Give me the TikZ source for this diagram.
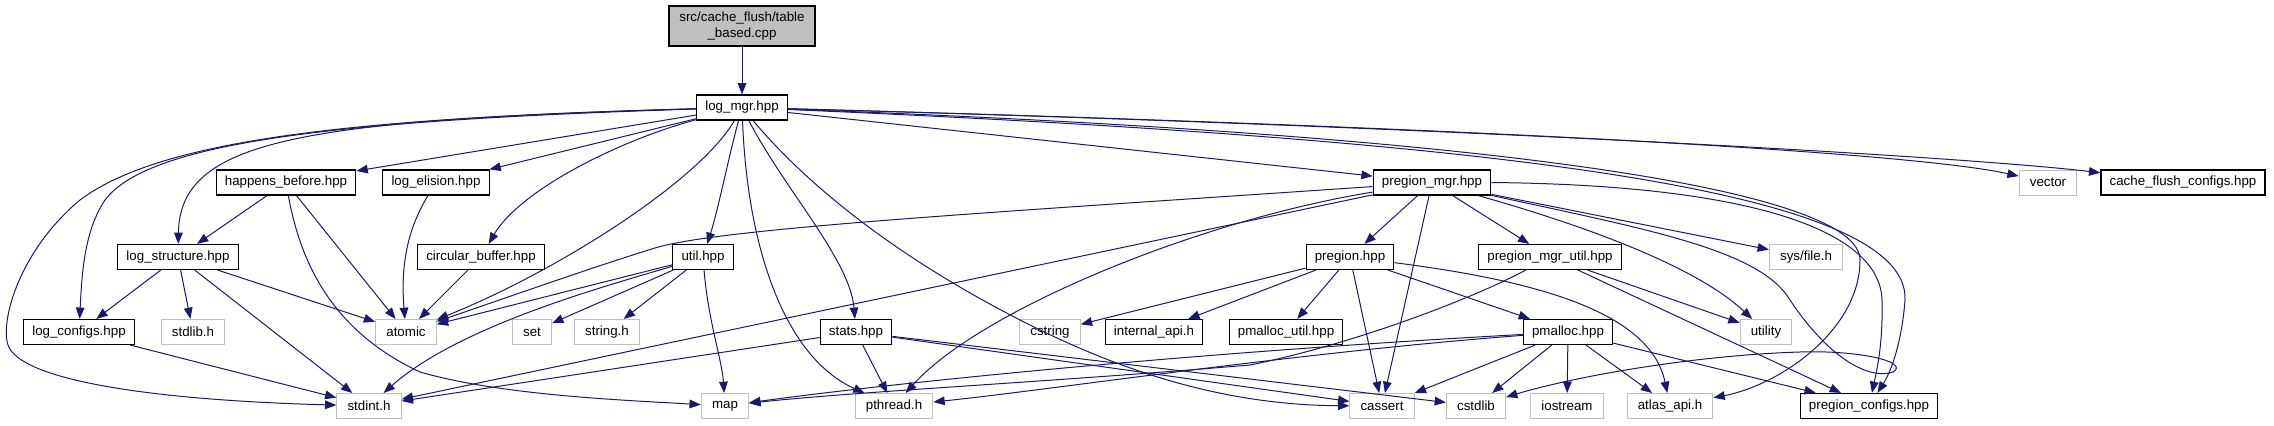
\documentclass[tikz,border=0pt]{standalone}
\usepackage{fontspec}
\setmainfont{Liberation Sans}
\usetikzlibrary{arrows.meta}
\definecolor{doxblue}{HTML}{191970}
\definecolor{doxgray}{HTML}{BFBFBF}

\begin{document}
\begin{tikzpicture}[x=0.75pt,y=-0.75pt]
\tikzset{
  filenode/.style={draw=black,line width=0.9pt,fill=white,minimum height=18.75pt,inner xsep=6.5pt,inner ysep=0pt,font=\fontsize{10}{12}\selectfont},
  sysnode/.style={filenode,draw=doxgray,line width=0.75pt,inner xsep=8pt},
  rootnode/.style={filenode,fill=doxgray,align=center,minimum width=109.5pt,minimum height=30pt},
  include/.style={draw=doxblue,line width=0.75pt,-{Triangle[length=8.5pt,width=6.5pt]}}
}
\useasboundingbox (0,0) rectangle (2274,425);
\node[rootnode] (n_root) at (742,26) {src/cache\_flush/table\\\_based.cpp};
\node[filenode] (n_logmgr) at (742,107.5) {log\_mgr.hpp};
\node[filenode] (n_happens) at (286,182.5) {happens\_before.hpp};
\node[filenode] (n_elision) at (436,182.5) {log\_elision.hpp};
\node[filenode] (n_pregionmgr) at (1432,182.5) {pregion\_mgr.hpp};
\node[sysnode] (n_vector) at (2048,182.5) {vector};
\node[filenode] (n_cacheflush) at (2183,182.5) {cache\_flush\_configs.hpp};
\node[filenode] (n_logstruct) at (178,257) {log\_structure.hpp};
\node[filenode] (n_circbuf) at (481,257) {circular\_buffer.hpp};
\node[filenode] (n_util) at (703,257) {util.hpp};
\node[filenode] (n_pregion) at (1350,257) {pregion.hpp};
\node[filenode] (n_pmgrutil) at (1550,257) {pregion\_mgr\_util.hpp};
\node[sysnode] (n_sysfile) at (1806,257) {sys/file.h};
\node[filenode] (n_logconfigs) at (79,332) {log\_configs.hpp};
\node[sysnode] (n_stdlib) at (193,332) {stdlib.h};
\node[sysnode] (n_atomic) at (406,332) {atomic};
\node[sysnode] (n_set) at (532,332) {set};
\node[sysnode] (n_stringh) at (607,332) {string.h};
\node[filenode] (n_stats) at (856,332) {stats.hpp};
\node[sysnode] (n_cstring) at (1050,332) {cstring};
\node[filenode] (n_internalapi) at (1154,332) {internal\_api.h};
\node[filenode] (n_pmallocutil) at (1286,332) {pmalloc\_util.hpp};
\node[filenode] (n_pmalloc) at (1568,332) {pmalloc.hpp};
\node[sysnode] (n_utility) at (1766,332) {utility};
\node[sysnode] (n_stdint) at (369,406) {stdint.h};
\node[sysnode] (n_map) at (725,406) {map};
\node[sysnode] (n_pthread) at (894,406) {pthread.h};
\node[sysnode] (n_cassert) at (1382,406) {cassert};
\node[sysnode] (n_cstdlib) at (1476,406) {cstdlib};
\node[sysnode] (n_iostream) at (1567,406) {iostream};
\node[sysnode] (n_atlasapi) at (1670,406) {atlas\_api.h};
\node[filenode] (n_pregionconfigs) at (1869,406) {pregion\_configs.hpp};
\draw[include] (n_root) -- (n_logmgr);
\draw[include] (n_logmgr) .. controls (350,118) and (160,140) .. (80,200) .. controls (20,250) and (0,320) .. (8,345) .. controls (20,380) and (150,400) .. (n_stdint);
\draw[include] (n_logmgr) .. controls (350,120) and (150,140) .. (105,200) .. controls (85,230) and (82,270) .. (n_logconfigs);
\draw[include] (n_logmgr) .. controls (300,120) and (180,140) .. (n_logstruct);
\draw[include] (n_logmgr) -- (n_happens);
\draw[include] (n_logmgr) -- (n_elision);
\draw[include] (n_logmgr) .. controls (700,180) and (560,270) .. (n_atomic);
\draw[include] (n_logmgr) .. controls (620,140) and (520,190) .. (n_circbuf);
\draw[include] (n_logmgr) .. controls (728,160) and (718,210) .. (n_util);
\draw[include] (n_logmgr) .. controls (748,260) and (790,360) .. (n_pthread);
\draw[include] (n_logmgr) .. controls (785,190) and (850,260) .. (n_stats);
\draw[include] (n_logmgr) .. controls (820,200) and (920,270) .. (1030,325) .. controls (1130,375) and (1230,405) .. (n_cassert);
\draw[include] (n_logmgr) -- (n_pregionmgr);
\draw[include] (n_logmgr) .. controls (1400,125) and (1900,150) .. (n_vector);
\draw[include] (n_logmgr) .. controls (1400,125) and (1950,155) .. (n_cacheflush);
\draw[include] (n_logmgr) .. controls (1500,140) and (1910,190) .. (1905,300) .. controls (1902,340) and (1892,370) .. (n_pregionconfigs);
\draw[include] (n_logmgr) .. controls (1500,135) and (1860,190) .. (1860,260) .. controls (1860,330) and (1780,385) .. (n_atlasapi);
\draw[include] (n_happens) -- (n_logstruct);
\draw[include] (n_happens) .. controls (300,260) and (330,330) .. (420,372) .. controls (500,395) and (620,400) .. (n_map);
\draw[include] (n_happens) -- (n_atomic);
\draw[include] (n_elision) .. controls (410,225) and (400,260) .. (n_atomic);
\draw[include] (n_logstruct) -- (n_logconfigs);
\draw[include] (n_logstruct) -- (n_stdlib);
\draw[include] (n_logstruct) -- (n_atomic);
\draw[include] (n_logstruct) -- (n_stdint);
\draw[include] (n_logconfigs) -- (n_stdint);
\draw[include] (n_circbuf) -- (n_atomic);
\draw[include] (n_util) -- (n_atomic);
\draw[include] (n_util) .. controls (610,285) and (460,325) .. (n_stdint);
\draw[include] (n_util) -- (n_set);
\draw[include] (n_util) -- (n_stringh);
\draw[include] (n_util) .. controls (708,320) and (722,360) .. (n_map);
\draw[include] (n_stats) -- (n_stdint);
\draw[include] (n_stats) -- (n_pthread);
\draw[include] (n_stats) -- (n_cassert);
\draw[include] (n_stats) -- (n_cstdlib);
\draw[include] (n_pregionmgr) .. controls (1000,212) and (720,228) .. (655,248) .. controls (590,268) and (500,300) .. (n_atomic);
\draw[include] (n_pregionmgr) -- (n_stdint);
\draw[include] (n_pregionmgr) .. controls (1200,220) and (980,310) .. (n_pthread);
\draw[include] (n_pregionmgr) -- (n_pregion);
\draw[include] (n_pregionmgr) -- (n_cassert);
\draw[include] (n_pregionmgr) -- (n_pmgrutil);
\draw[include] (n_pregionmgr) .. controls (1600,230) and (1700,270) .. (n_utility);
\draw[include] (n_pregionmgr) -- (n_sysfile);
\draw[include] (n_pregionmgr.east) .. controls (1750,185) and (1880,230) .. (1882,300) .. controls (1883,340) and (1878,365) .. (n_pregionconfigs);
\draw[include] (n_pregionmgr) .. controls (1650,230) and (1760,250) .. (1790,300) .. controls (1830,360) and (1870,380) .. (1893,372) .. controls (1910,362) and (1860,350) .. (1800,352) .. controls (1700,355) and (1580,375) .. (n_cstdlib);
\draw[include] (n_pregion) -- (n_cstring);
\draw[include] (n_pregion) -- (n_internalapi);
\draw[include] (n_pregion) -- (n_pmallocutil);
\draw[include] (n_pregion) -- (n_cassert);
\draw[include] (n_pregion) -- (n_pmalloc);
\draw[include] (n_pregion) .. controls (1530,280) and (1650,310) .. (n_atlasapi);
\draw[include] (n_pmgrutil) .. controls (1470,300) and (1350,345) .. (1250,365) .. controls (1050,382) and (850,392) .. (n_map);
\draw[include] (n_pmgrutil) -- (n_utility);
\draw[include] (n_pmgrutil) -- (n_pregionconfigs);
\draw[include] (n_pmalloc) .. controls (1200,352) and (900,382) .. (n_map);
\draw[include] (n_pmalloc) .. controls (1300,352) and (1050,390) .. (n_pthread);
\draw[include] (n_pmalloc) -- (n_cassert);
\draw[include] (n_pmalloc) -- (n_cstdlib);
\draw[include] (n_pmalloc) -- (n_iostream);
\draw[include] (n_pmalloc) -- (n_atlasapi);
\draw[include] (n_pmalloc) -- (n_pregionconfigs);
\end{tikzpicture}
\end{document}
